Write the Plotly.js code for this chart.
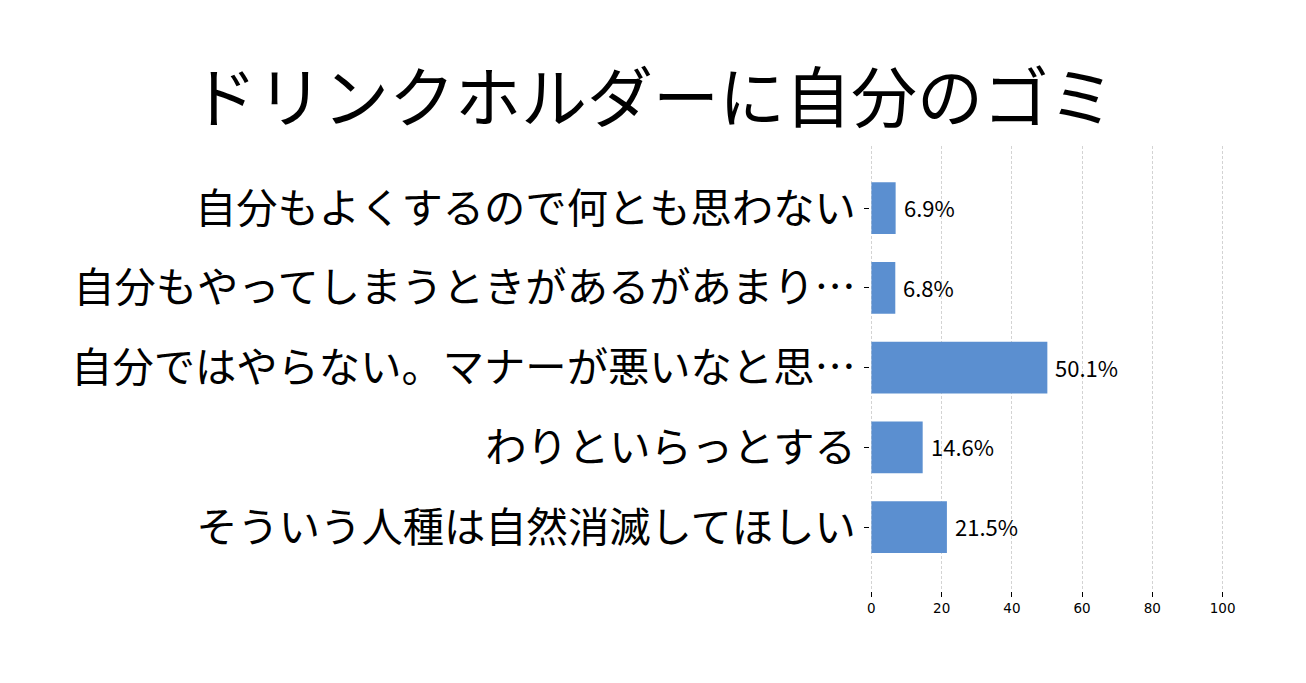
<!DOCTYPE html>
<html>
<head>
<meta charset="utf-8">
<script src="https://cdn.plot.ly/plotly-3.0.1.min.js"></script>
<style>
  html, body { margin: 0; padding: 0; background: #fff; }
  #chart { width: 1306px; height: 683px; }
</style>
</head>
<body>
<div id="chart"></div>
<script>
// 回答の選択肢と割合(%)
const answers = [
    '自分もよくするので何とも思わない',
    '自分もやってしまうときがあるがあまり…',
    '自分ではやらない。マナーが悪いなと思…',
    'わりといらっとする',
    'そういう人種は自然消滅してほしい'
];
const shares = [6.9, 6.8, 50.1, 14.6, 21.5];
const xTicks = [0, 20, 40, 60, 80, 100];

const jpFont = '"Noto Sans CJK JP", "Noto Sans", sans-serif';

let trace = {
    type: 'bar',
    orientation: 'h',
    x: shares,
    y: answers,
    width: 0.65,
    marker: { color: '#5b8fd0', line: { width: 0 } },
    hoverinfo: 'none'
};

// 値ラベル
let annotations = shares.map((v, i) => ({
    x: v, y: answers[i], xref: 'x', yref: 'y',
    text: v.toFixed(1) + '%',
    showarrow: false, xanchor: 'left', yanchor: 'middle', xshift: 6, yshift: 1,
    font: { family: jpFont, size: 22, color: '#000' }
}));

let layout = {
    width: 1306, height: 683,
    paper_bgcolor: '#fff', plot_bgcolor: '#fff',
    margin: { l: 869.5, r: 81.5, t: 146, b: 92 },
    showlegend: false,
    title: {
        text: 'ドリンクホルダーに自分のゴミ',
        font: { family: jpFont, size: 66, color: '#000' },
        x: 0.5, xanchor: 'center', xref: 'container',
        y: 0.855, yanchor: 'middle', yref: 'container'
    },
    xaxis: {
        range: [-0.4, 100.4],
        tickvals: xTicks,
        ticktext: xTicks.map(String),
        showgrid: true, gridcolor: '#c8c8c8', gridwidth: 0.8, griddash: '3px,2px',
        zeroline: false, showline: false,
        ticks: 'outside', ticklen: 5, tickcolor: '#000', tickwidth: 1,
        tickfont: { family: '"DejaVu Sans", sans-serif', size: 13.5, color: '#000' },
        fixedrange: true
    },
    yaxis: {
        type: 'category',
        range: [4.8, -0.78],
        showgrid: false, zeroline: false, showline: false,
        ticks: 'outside', ticklen: 5, tickcolor: '#000', tickwidth: 1,
        tickfont: { family: jpFont, size: 41.3, color: '#000' },
        fixedrange: true
    },
    annotations: annotations
};

Plotly.newPlot('chart', [trace], layout, { displayModeBar: false, staticPlot: true });
</script>
</body>
</html>
